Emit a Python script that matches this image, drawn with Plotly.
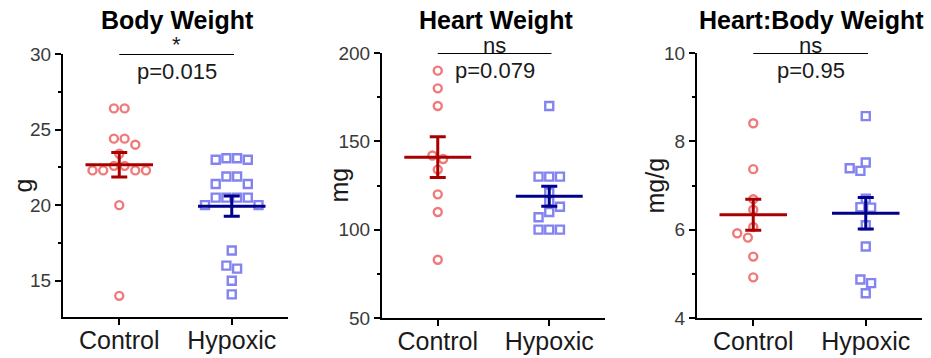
import numpy as np
import plotly.graph_objects as go

# ---------------- data ----------------
groups = ["Control", "Hypoxic"]

body_control = [26.4, 26.4, 24.4, 24.4, 24.0, 23.4, 22.6, 22.6, 22.3, 22.3, 22.3, 22.3, 20.0, 14.0]
body_hypoxic = [23.1, 23.1, 23.0, 23.0, 21.9, 21.9, 21.4, 21.4, 20.5, 20.5, 20.5, 20.5,
                20.0, 20.0, 17.0, 16.0, 15.8, 15.0, 14.1]

heart_control = [190, 180, 170, 142, 140, 134, 120, 110, 83]
heart_hypoxic = [170, 130, 130, 130, 121, 116, 113, 110, 107, 100, 100, 100]

ratio_control = [8.41, 7.37, 6.69, 6.45, 6.06, 5.92, 5.82, 5.39, 4.92]
ratio_hypoxic = [8.57, 7.52, 7.39, 7.33, 6.70, 6.51, 6.50, 6.10, 5.62, 4.87, 4.79, 4.56]

titles = ["Body Weight", "Heart Weight", "Heart:Body Weight"]
units = ["g", "mg", "mg/g"]
sig_marks = ["*", "ns", "ns"]
p_values = ["p=0.015", "p=0.079", "p=0.95"]

# ---------------- layout constants ----------------
W, H = 931, 358
# plot boxes in pixels: (left, right, top, bottom)
boxes = [(63, 288, 54, 317), (382, 605, 53, 318), (697, 922, 53, 318)]
unit_x = [22, 338, 654]          # centre of the rotated unit labels
y_ranges = [(12.6, 30), (50, 200), (4, 10)]
y_dticks = [5, 50, 2]
y_minor = [2.5, 25, 1]

RED_PT = "#F07A7A"
BLUE_PT = "#8484F0"
RED_MEAN = "#A80000"
BLUE_MEAN = "#00008B"
FONT = "Liberation Sans, Arial, sans-serif"

SLOT = 10.7      # horizontal spacing of a row of symbols (px)
CLEAR = 8.8      # minimum centre distance between symbols (px)


def swarm(values, ppu_y, ppu_x):
    """Column scatter layout: near-equal values share a centred row on a slot lattice."""
    vals = sorted(values, reverse=True)
    placed = []
    xs, ys = [], []
    i = 0
    flip = 1
    while i < len(vals):
        j = i + 1
        while j < len(vals) and (vals[i] - vals[j]) * ppu_y < 0.45 * SLOT:
            j += 1
        row = vals[i:j]
        n = len(row)
        if n == 1:
            slots = [0.0] + [s * k * SLOT / 2 for k in range(1, 12) for s in (flip, -flip)]
        elif n % 2 == 0:
            slots = [s * (k + 0.5) * SLOT for k in range(0, 8) for s in (-1, 1)]
        else:
            slots = [0.0] + [s * k * SLOT for k in range(1, 8) for s in (-1, 1)]
        chosen = []
        for v in row:
            y = v * ppu_y
            for sx in slots:
                if sx in chosen:
                    continue
                if all((sx - px) ** 2 + (y - py) ** 2 >= CLEAR ** 2 for px, py in placed):
                    chosen.append(sx)
                    break
        for v, sx in zip(row, chosen):
            placed.append((sx, v * ppu_y))
        order = sorted(range(n), key=lambda k: chosen[k])
        for k in order:
            xs.append(chosen[k] / ppu_x)
            ys.append(row[k])
        if n == 1 and chosen[0] != 0:
            flip = -flip
        i = j
    return np.array(xs), np.array(ys)


def mean_sem(v):
    a = np.asarray(v, dtype=float)
    return a.mean(), a.std(ddof=1) / np.sqrt(len(a))


panels = [
    (body_control, body_hypoxic),
    (heart_control, heart_hypoxic),
    (ratio_control, ratio_hypoxic),
]

fig = go.Figure()
annotations = []
shapes = []

for p, (ctrl, hyp) in enumerate(panels):
    left, right, top, bottom = boxes[p]
    ax = "" if p == 0 else str(p + 1)
    xa, ya = "x" + ax, "y" + ax
    y0, y1 = y_ranges[p]
    ppu_y = (bottom - top) / (y1 - y0)
    ppu_x = (right - left) / 2.0

    for g, (vals, col, sym, mcol) in enumerate([
        (ctrl, RED_PT, "circle-open", RED_MEAN),
        (hyp, BLUE_PT, "square-open", BLUE_MEAN),
    ]):
        ox, oy = swarm(vals, ppu_y, ppu_x)
        fig.add_trace(go.Scatter(
            x=g + ox, y=oy, mode="markers", xaxis=xa, yaxis=ya,
            marker=dict(symbol=sym, size=8, color=col, line=dict(width=2.4, color=col)),
            showlegend=False, hoverinfo="y",
        ))
        m, s = mean_sem(vals)
        # mean line
        fig.add_trace(go.Scatter(
            x=[g - 0.3, g + 0.3], y=[m, m], mode="lines", xaxis=xa, yaxis=ya,
            line=dict(color=mcol, width=3), showlegend=False, hoverinfo="skip",
        ))
        # SEM bar
        fig.add_trace(go.Scatter(
            x=[g], y=[m], mode="markers", xaxis=xa, yaxis=ya,
            marker=dict(size=1, color=mcol, opacity=0),
            error_y=dict(type="data", array=[s], color=mcol, thickness=3, width=8),
            showlegend=False, hoverinfo="skip",
        ))

    dom_x = [left / W, right / W]
    dom_y = [1 - bottom / H, 1 - top / H]
    fig.update_layout(**{
        "xaxis" + ax: dict(
            domain=dom_x, range=[-0.5, 1.5], anchor=ya, automargin=False,
            tickvals=[0, 1], ticktext=groups,
            showline=True, linecolor="black", linewidth=2,
            ticks="outside", ticklen=6, tickwidth=2, tickcolor="black",
            ticklabelstandoff=-6,
            showgrid=False, zeroline=False,
            tickfont=dict(family=FONT, size=25, color="#1a1a1a"),
            fixedrange=True,
        ),
        "yaxis" + ax: dict(
            domain=dom_y, range=[y0, y1], anchor=xa, automargin=False,
            dtick=y_dticks[p], tick0=0,
            showline=True, linecolor="black", linewidth=2,
            ticks="outside", ticklen=6, tickwidth=2, tickcolor="black",
            minor=dict(dtick=y_minor[p], tick0=0, ticks="outside", ticklen=3,
                       tickwidth=2, tickcolor="black", showgrid=False),
            showgrid=False, zeroline=False,
            tickfont=dict(family=FONT, size=19, color="#3a3a3a"),
            fixedrange=True,
        ),
    })

    # unit label
    annotations.append(dict(xref="paper", yref="paper", x=unit_x[p] / W,
                            y=1 - (top + bottom) / 2 / H, text=units[p], textangle=-90,
                            showarrow=False, xanchor="center", yanchor="middle",
                            font=dict(family=FONT, size=25, color="#1a1a1a")))
    # significance bracket
    shapes.append(dict(type="line", xref=xa, yref=ya, x0=0, x1=1.02, y0=y1, y1=y1,
                       line=dict(color="black", width=2)))
    annotations.append(dict(xref=xa, yref=ya, x=0.51, y=y1, text=sig_marks[p],
                            showarrow=False, yanchor="bottom", borderpad=0,
                            yshift=-4 if sig_marks[p] == "*" else -6,
                            font=dict(family=FONT, size=22, color="#1a1a1a")))
    annotations.append(dict(xref=xa, yref=ya, x=0.51, y=y1, text=p_values[p],
                            showarrow=False, yanchor="top", yshift=-4, borderpad=0,
                            font=dict(family=FONT, size=22, color="#1a1a1a")))
    # panel title
    annotations.append(dict(xref=xa, yref="paper", x=0.52, y=1 - 20 / H,
                            text="<b>" + titles[p] + "</b>", borderpad=0,
                            showarrow=False, yanchor="middle",
                            font=dict(family=FONT, size=25, color="black")))

fig.update_layout(
    width=W, height=H,
    margin=dict(l=0, r=0, t=0, b=0, autoexpand=False),
    paper_bgcolor="white", plot_bgcolor="white",
    shapes=shapes, annotations=annotations,
    showlegend=False,
)

fig.write_html("out.html", config={"displayModeBar": False})
